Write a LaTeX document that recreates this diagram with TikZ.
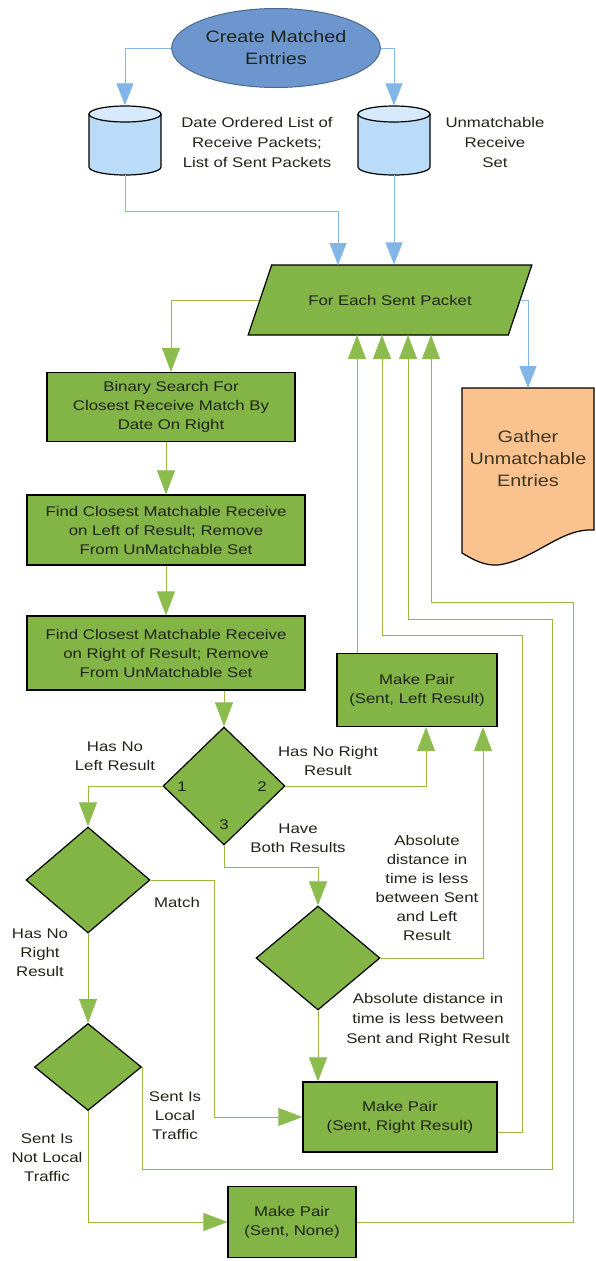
\documentclass[tikz,border=0pt]{standalone}
\usepackage{fontspec}
\setmainfont{Liberation Sans}[FakeStretch=1.2]
\usetikzlibrary{shapes,
                arrows.meta,
                positioning}
\definecolor{boxgreen}{RGB}{130,180,70}
\definecolor{linegreen}{RGB}{150,186,62}
\definecolor{headgreen}{RGB}{140,188,78}
\definecolor{lineblue}{RGB}{130,182,232}
\definecolor{startblue}{RGB}{108,150,205}
\definecolor{storeblue}{RGB}{186,220,248}
\definecolor{storetop}{RGB}{214,234,252}
\definecolor{docorange}{RGB}{250,194,142}
\definecolor{textdark}{RGB}{32,36,26}
\tikzset{process/.style =
   {rectangle,
    draw,
    line width=1.2pt,
    fill=boxgreen,
    text=textdark,
    align=center,
    inner sep=0pt,
    font=\fontsize{14}{19}\selectfont}}
\tikzset{decision/.style =
   {diamond,
    draw,
    line width=1.2pt,
    fill=boxgreen,
    inner sep=0pt}}
\tikzset{store/.style =
   {rectangle,
    minimum width=72pt,
    minimum height=69pt,
    inner sep=0pt}}
\tikzset{storeline/.style =
   {draw,
    line width=1.2pt}}
\tikzset{note/.style =
   {align=center,
    text=textdark,
    inner sep=0pt,
    font=\fontsize{14}{19}\selectfont}}
\tikzset{garrow/.style = {draw=linegreen, line width=0.9pt,
    -{Triangle[width=18pt,length=24pt,color=headgreen]}}}
\tikzset{barrow/.style = {draw=lineblue, line width=0.9pt,
    -{Triangle[width=17pt,length=22pt,color=lineblue]}}}

\begin{document}
\begin{tikzpicture}[x=1pt, y=-1pt]

    \useasboundingbox (0,0) rectangle (595,1261);

    % start and stores
    \node [ellipse,
           draw=startblue!70!black,
           fill=startblue,
           line width=1pt,
           minimum width=195pt,
           minimum height=79pt,
           align=center,
           text=textdark,
           font=\fontsize{16.5}{22}\selectfont] (start) at (276,48)
    {Create Matched\\Entries};

    \node [store] (store0) at (125,140) {};
    \node [store] (store1) at (394,140) {};

    \draw [storeline, fill=storeblue] (89,114) -- (89,167)
        arc [start angle=180, end angle=0, x radius=36, y radius=8] -- (161,114);
    \draw [storeline, fill=storetop] (125,114) ellipse [x radius=36, y radius=8];
    \draw [storeline, fill=storeblue] (358,114) -- (358,167)
        arc [start angle=180, end angle=0, x radius=36, y radius=8] -- (430,114);
    \draw [storeline, fill=storetop] (394,114) ellipse [x radius=36, y radius=8];

    \node [note, font=\fontsize{14}{20}\selectfont] (store0text) at (257,142)
    {Date Ordered List of\\Receive Packets;\\List of Sent Packets};
    \node [note, font=\fontsize{14}{20}\selectfont] (store1text) at (495,142)
    {Unmatchable\\Receive\\Set};

    % loop
    \node [trapezium,
           trapezium left angle=45,
           trapezium right angle=135,
           trapezium stretches=true,
           draw,
           line width=1.2pt,
           fill=boxgreen,
           text=textdark,
           minimum width=284pt,
           minimum height=70pt,
           font=\fontsize{14}{19}\selectfont] (loop) at (390,300)
    {For Each Sent Packet};

    \coordinate (in0) at (338,265);
    \coordinate (ret0) at (357,335);
    \coordinate (ret1) at (382,335);
    \coordinate (ret2) at (408,335);
    \coordinate (ret3) at (431,335);

    % gather document
    \draw [line width=1.2pt, fill=docorange]
        (462,388) -- (594,388) -- (594,530)
        .. controls (560,528) and (535,560) .. (498,565)
        .. controls (484,566) and (472,559) .. (462,553) -- cycle;
    \node [align=center,
           text=textdark!80!brown,
           inner sep=0pt,
           minimum width=132pt,
           font=\fontsize{16.5}{22}\selectfont] (gather) at (528,459)
    {Gather\\Unmatchable\\Entries};
    \coordinate (gathertop) at (528,388);

    % search steps
    \node [process, minimum width=248pt, minimum height=69pt] (block0) at (171,407)
    {Binary Search For\\Closest Receive Match By\\Date On Right};
    \node [process, minimum width=278pt, minimum height=70pt] (block1) at (166,530)
    {Find Closest Matchable Receive\\on Left of Result; Remove\\From UnMatchable Set};
    \node [process, minimum width=278pt, minimum height=74pt] (block2) at (166,653)
    {Find Closest Matchable Receive\\on Right of Result; Remove\\From UnMatchable Set};

    % decisions
    \node [decision, minimum width=122pt, minimum height=118pt] (choice) at (224,786) {};
    \node [decision, minimum width=124pt, minimum height=106pt] (choiceleft) at (88,880) {};
    \node [decision, minimum width=124pt, minimum height=104pt] (choiceboth) at (318,958) {};
    \node [decision, minimum width=107pt, minimum height=87pt] (choicelocal) at (88,1067) {};

    \node [note] (one) at (182,787) {1};
    \node [note] (two) at (262,787) {2};
    \node [note] (three) at (224,825) {3};

    % pairs
    \node [process, minimum width=160pt, minimum height=73pt] (pairleft) at (417,690)
    {Make Pair\\(Sent, Left Result)};
    \node [process, minimum width=194pt, minimum height=70pt] (pairright) at (400,1117)
    {Make Pair\\(Sent, Right Result)};
    \node [process, minimum width=128pt, minimum height=71pt] (pairnone) at (292,1222)
    {Make Pair\\(Sent, None)};

    % labels
    \node [note] (lnoleft) at (115,756) {Has No\\Left Result};
    \node [note] (lnoright) at (328,761) {Has No Right\\Result};
    \node [note] (lboth) at (298,838) {Have\\Both Results};
    \node [note] (lmatch) at (177,902) {Match};
    \node [note] (lnoright2) at (40,953) {Has No\\Right\\Result};
    \node [note] (lcloseleft) at (427,888)
    {Absolute\\distance in\\time is less\\between Sent\\and Left\\Result};
    \node [note, font=\fontsize{14}{20}\selectfont] (lcloseright) at (428,1020)
    {Absolute distance in\\time is less between\\Sent and Right Result};
    \node [note] (llocal) at (175,1116) {Sent Is\\Local\\Traffic};
    \node [note] (lnotlocal) at (47,1158) {Sent Is\\Not Local\\Traffic};

    % blue connectors
    \draw [barrow] (start.west) -| (store0.north);
    \draw [barrow] (start.east) -| (store1.north);
    \draw [barrow] (store0.south) -- ++(0,37) -| (in0);
    \draw [barrow] (store1.south) -- (store1.south |- loop.north);
    \draw [barrow] (loop.east) -| (gathertop);

    % green connectors
    \draw [garrow] (loop.west) -| (block0.north);
    \draw [garrow] (block0.south -| block1.north) -- (block1.north);
    \draw [garrow] (block1.south) -- (block2.north);
    \draw [garrow] (block2.south -| choice.north) -- (choice.north);
    \draw [garrow] (choice.west) -| (choiceleft.north);
    \draw [garrow] (choice.east) -| ([xshift=9pt]pairleft.south);
    \draw [garrow] (choice.south) -- ++(0,22) -| (choiceboth.north);
    \draw [garrow] (choiceboth.east) -| ([xshift=66pt]pairleft.south);
    \draw [garrow] (choiceboth.south) -- (choiceboth.south |- pairright.north);
    \draw [garrow] (choiceleft.east) -- ++(64,0) |- (pairright.west);
    \draw [garrow] (choiceleft.south) -- (choicelocal.north);
    \draw [garrow] (choicelocal.south) |- (pairnone.west);

    % back to the loop
    \draw [garrow] (pairleft.north -| ret0) -- (ret0);
    \draw [garrow] ([yshift=-15pt]pairright.east) -| (522,635) -| (ret1);
    \draw [garrow] (choicelocal.east) -- ++(0,102) -| (552,619) -| (ret2);
    \draw [garrow] (pairnone.east) -| (573,602) -| (ret3);

\end{tikzpicture}
\end{document}
